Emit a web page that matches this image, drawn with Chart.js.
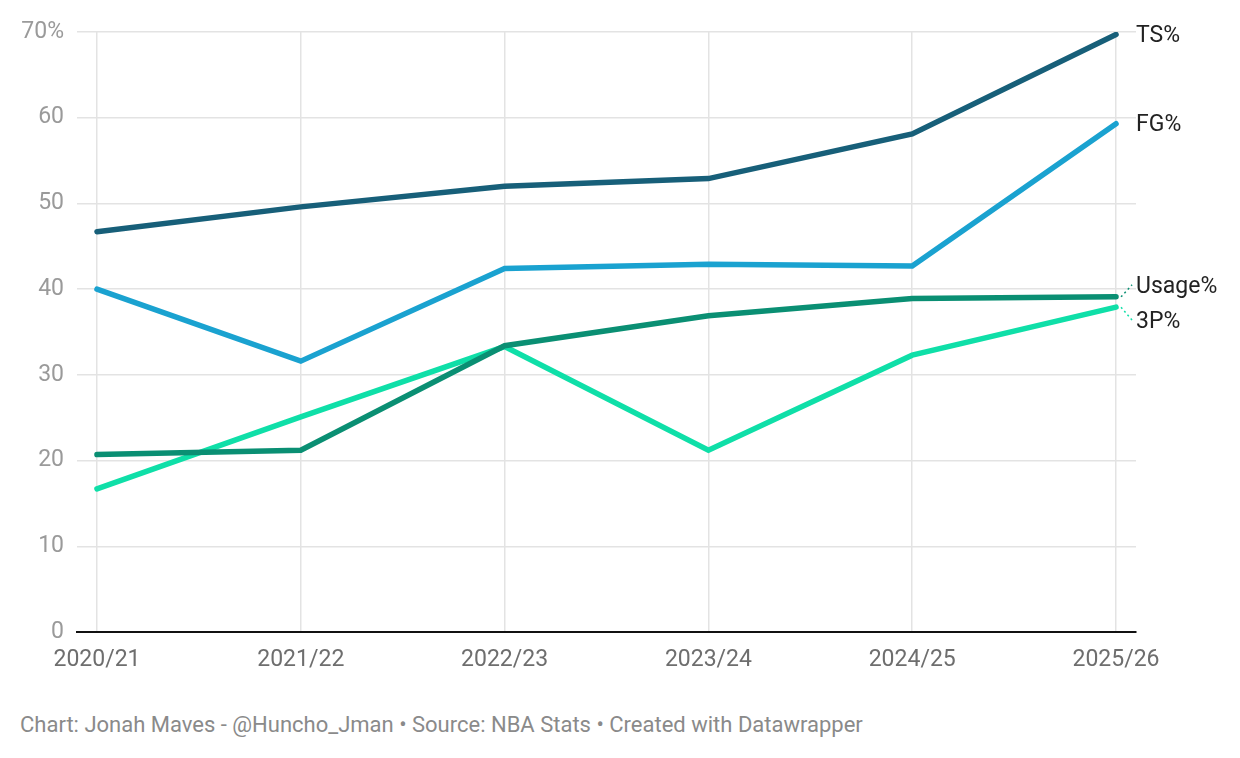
<!DOCTYPE html>
<html>
<head>
<meta charset="utf-8">
<script src="https://cdn.jsdelivr.net/npm/chart.js@4"></script>
<style>
  body { margin: 0; background: #fff; font-family: Roboto, sans-serif; }
  #wrap { position: absolute; left: 0; top: 0; width: 1240px; height: 690px; }
  #foot { position: absolute; left: 20px; top: 712px; font-size: 22px; color: #8a8a8a; }
</style>
</head>
<body>
<div id="wrap"><canvas id="myChart"></canvas></div>
<div id="foot">Chart: Jonah Maves - @Huncho_Jman • Source: NBA Stats • Created with Datawrapper</div>
<script>
const seasons = ['2020/21', '2021/22', '2022/23', '2023/24', '2024/25', '2025/26']
const ts = [46.7, 49.6, 52.0, 52.9, 58.1, 69.7]
const fg = [40.0, 31.6, 42.4, 42.9, 42.7, 59.3]
const usage = [20.7, 21.2, 33.4, 36.9, 38.9, 39.1]
const threeP = [16.7, 25.1, 33.3, 21.2, 32.3, 37.9]
const yTicks = [0, 10, 20, 30, 40, 50, 60, 70]

const names = ['TS%', 'FG%', 'Usage%', '3P%']
const colors = ['#175f79', '#1aa2d0', '#0a8f73', '#0fdfa8']
const labelShift = [0, 0, -12, 13]

function pts(arr) {
  return arr.map((v, i) => ({ x: i, y: v }))
}

const endLabels = {
  id: 'endLabels',
  afterDatasetsDraw(chart) {
    const c = chart.ctx
    const xs = chart.scales.x
    const ys = chart.scales.y
    chart.data.datasets.forEach((ds, i) => {
      const last = ds.data[ds.data.length - 1]
      const px = xs.getPixelForValue(last.x)
      const py = ys.getPixelForValue(last.y)
      const ly = py + labelShift[i]
      c.save()
      if (labelShift[i] !== 0) {
        c.strokeStyle = ds.borderColor
        c.lineWidth = 1.5
        c.setLineDash([2, 3])
        c.beginPath()
        c.moveTo(px + 5, py)
        c.lineTo(px + 16, ly)
        c.stroke()
        c.setLineDash([])
      }
      c.fillStyle = '#222'
      c.font = '23px Roboto'
      c.textBaseline = 'middle'
      c.textAlign = 'left'
      c.fillText(ds.label, px + 20, ly + 2)
      c.restore()
    })
  }
}

const ctx = document.getElementById('myChart')

const data = {
  datasets: [ts, fg, usage, threeP].map((arr, i) => ({
    label: names[i],
    data: pts(arr),
    borderColor: colors[i],
    borderWidth: 5.5,
    pointRadius: 0,
    borderCapStyle: 'round',
    tension: 0
  }))
}

const config = {
  type: 'line',
  data: data,
  options: {
    responsive: true,
    maintainAspectRatio: false,
    animation: false,
    layout: { padding: { left: 0, right: 104, top: 32, bottom: 0 } },
    plugins: { legend: { display: false }, tooltip: { enabled: false } },
    scales: {
      x: {
        type: 'linear',
        min: -0.098,
        max: 5.098,
        afterBuildTicks(scale) {
          scale.ticks = seasons.map((s, i) => ({ value: i }))
        },
        afterFit(scale) { scale.height = 58 },
        ticks: {
          callback: (v) => seasons[v],
          color: '#6e6e6e',
          font: { family: 'Roboto', size: 23 },
          padding: 14,
          maxRotation: 0,
          autoSkip: false
        },
        grid: { color: '#e3e3e3', lineWidth: 1.5, drawTicks: false },
        border: { color: '#111', width: 2 }
      },
      y: {
        min: 0,
        max: 70,
        afterBuildTicks(scale) {
          scale.ticks = yTicks.map(v => ({ value: v }))
        },
        afterFit(scale) { scale.width = 77 },
        ticks: {
          callback: (v) => v === 70 ? '70%' : v,
          color: '#9a9a9a',
          font: { family: 'Roboto', size: 23 },
          padding: 13
        },
        grid: { color: '#e3e3e3', lineWidth: 1.5, drawTicks: false },
        border: { display: false }
      }
    }
  },
  plugins: [endLabels]
}

const myChart = new Chart(ctx, config)
</script>
</body>
</html>
